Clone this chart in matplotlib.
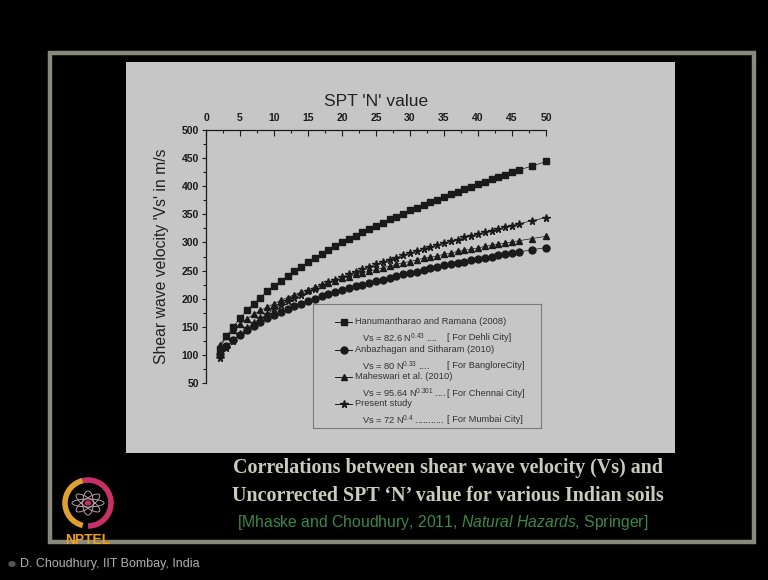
import matplotlib
matplotlib.use("Agg")
import matplotlib.pyplot as plt
from matplotlib.patches import Rectangle, Arc, Ellipse, Circle

plt.rcParams['font.family'] = ['Liberation Sans', 'DejaVu Sans']
plt.rcParams['mathtext.fontset'] = 'custom'
plt.rcParams['mathtext.rm'] = 'Liberation Sans'
plt.rcParams['mathtext.it'] = 'Liberation Sans:italic'

# SPT N values used in the chart
n_values = list(range(2, 47)) + [48, 50]

# shear wave velocity (m/s)
vs_delhi = [111, 133, 150, 165, 179, 191, 202, 213, 222, 232, 240, 249, 257, 265,
            272, 279, 286, 293, 300, 306, 312, 318, 324, 330, 335, 341, 346, 351,
            357, 362, 367, 372, 376, 381, 386, 390, 395, 399, 404, 408, 412, 416,
            420, 425, 429, 436, 444]
vs_bangalore = [101, 115, 126, 136, 145, 152, 159, 165, 171, 177, 182, 187, 191, 196,
                200, 204, 208, 211, 215, 219, 222, 225, 228, 231, 234, 237, 240, 243,
                246, 248, 251, 254, 256, 259, 261, 263, 266, 268, 270, 273, 275, 277,
                279, 281, 283, 287, 291]
vs_chennai = [118, 133, 145, 155, 164, 172, 179, 185, 191, 197, 202, 207, 212, 216,
              220, 224, 228, 232, 236, 239, 243, 246, 249, 252, 255, 258, 261, 264,
              266, 269, 272, 274, 276, 279, 281, 284, 286, 288, 290, 293, 295, 297,
              299, 301, 303, 307, 311]
vs_present = [95, 112, 125, 137, 147, 157, 165, 173, 181, 188, 195, 201, 207, 213,
              218, 224, 229, 234, 239, 243, 248, 252, 257, 261, 265, 269, 273, 277,
              281, 284, 288, 292, 295, 299, 302, 305, 309, 312, 315, 318, 321, 324,
              327, 330, 333, 339, 344]

series_names = ["Hanumantharao and Ramana (2008)", "Anbazhagan and Sitharam (2010)",
                "Maheswari et al. (2010)", "Present study"]
formulas = [r"Vs = 82.6 N$^{0.43}$ ....", r"Vs = 80 N$^{0.33}$ ....",
            r"Vs = 95.64 N$^{0.301}$ ....", r"Vs = 72 N$^{0.4}$ ..........."]
cities = ["[ For Dehli City]", "[ For BangloreCity]", "[ For Chennai City]",
          "[ For Mumbai City]"]

W, H = 768, 580


def fx(x):
    return x / W


def fy(y):
    return 1 - y / H


fig = plt.figure(figsize=(7.68, 5.8), dpi=100, facecolor='black')

# slide frame and grey chart panel (behind the axes)
fig.patches.append(Rectangle((fx(50), fy(542)), 704 / W, 489 / H, fill=False,
                             ec='#8a8a7c', lw=3.2, zorder=-5,
                             transform=fig.transFigure))
fig.patches.append(Rectangle((fx(126), fy(453)), 549 / W, 391 / H, fc='#c6c6c6',
                             ec='none', zorder=-5, transform=fig.transFigure))

ax = fig.add_axes([fx(206), fy(383), 340 / W, 253 / H])
ax.set_facecolor('none')
ink = '#1a1a1a'
series = [vs_delhi, vs_bangalore, vs_chennai, vs_present]
markers = ['s', 'o', '^', '*']
sizes = [4.5, 5, 5, 5.5]
for vals, m, s in zip(series, markers, sizes):
    ax.plot(n_values, vals, marker=m, ms=s, color=ink, lw=0.5, clip_on=False)

ax.set_xlim(0, 50)
ax.set_ylim(50, 500)
ax.spines['right'].set_visible(False)
ax.spines['bottom'].set_visible(False)
for sp in ['top', 'left']:
    ax.spines[sp].set_color(ink)
    ax.spines[sp].set_linewidth(0.9)
ax.xaxis.tick_top()
ax.xaxis.set_label_position('top')
ax.set_xticks(range(0, 51, 5))
ax.set_xticks([x + 2.5 for x in range(0, 50, 5)], minor=True)
ax.set_yticks(range(50, 501, 50))
ax.set_yticks(range(75, 500, 50), minor=True)
ax.tick_params(axis='x', which='major', direction='in', length=4, width=0.8,
               colors=ink, labelsize=7.5, pad=5)
ax.tick_params(axis='x', which='minor', direction='in', length=2.5, width=0.8,
               colors=ink)
ax.tick_params(axis='y', which='major', direction='out', length=3, width=0.8,
               colors=ink, labelsize=7.5, pad=2)
ax.tick_params(axis='y', which='minor', direction='out', length=2, width=0.8,
               colors=ink)
for lab in ax.get_xticklabels() + ax.get_yticklabels():
    lab.set_fontweight('bold')
ax.set_xlabel("SPT 'N' value", fontsize=12.5, color='#222222', labelpad=5)
ax.set_ylabel("Shear wave velocity 'Vs' in m/s", fontsize=11.3, color='#222222',
              labelpad=9)

# legend box
lax = fig.add_axes([fx(313), fy(428), 228 / W, 124 / H])
lax.set_facecolor('none')
lax.set_xlim(313, 541)
lax.set_ylim(428, 304)
lax.set_xticks([])
lax.set_yticks([])
for sp in lax.spines.values():
    sp.set_color('#7a7a7a')
    sp.set_linewidth(0.8)
rows = [322, 350, 377, 404]
for i in range(4):
    y = rows[i]
    lax.plot([335, 352], [y, y], color=ink, lw=0.7)
    lax.plot([343.5], [y], marker=markers[i], ms=sizes[i], color=ink)
    lax.text(355, y, series_names[i], fontsize=6.7, color='#333333', va='center')
    lax.text(362, y + 16, formulas[i], fontsize=6.7, color='#333333', va='center')
    lax.text(447, y + 16, cities[i], fontsize=6.7, color='#333333', va='center')

# caption
cap = '#cbcbbd'
fig.text(fx(448), fy(468), "Correlations between shear wave velocity (Vs) and",
         family='Liberation Serif', weight='bold', fontsize=14.4, color=cap,
         ha='center', va='center')
fig.text(fx(448), fy(496), "Uncorrected SPT \u2018N\u2019 value for various Indian soils",
         family='Liberation Serif', weight='bold', fontsize=14.4, color=cap,
         ha='center', va='center')
fig.text(fx(443), fy(522),
         r"[Mhaske and Choudhury, 2011, $\mathit{Natural\ Hazards}$, Springer]",
         fontsize=11.3, color='#3b8a46', ha='center', va='center')

# NPTEL logo
lx, ly = fx(88), fy(503)
fig.patches.append(Arc((lx, ly), 46 / W, 46 / H, theta1=100, theta2=260,
                       color='#e0a030', lw=4, transform=fig.transFigure))
fig.patches.append(Arc((lx, ly), 46 / W, 46 / H, theta1=-90, theta2=100,
                       color='#c8306a', lw=4, transform=fig.transFigure))
for ang in [0, 45, 90, 135]:
    fig.patches.append(Ellipse((lx, ly), 32 / W, 8 / H, angle=ang, fill=False,
                               ec='#d0b0c0', lw=0.6, transform=fig.transFigure))
fig.patches.append(Circle((lx, ly), 2.5 / W, color='#c8306a',
                          transform=fig.transFigure))
fig.text(fx(88), fy(540), "NPTEL", fontsize=10, weight='bold', color='#f0a020',
         ha='center', va='center')

# footer
fig.patches.append(Circle((fx(12), fy(564)), 3 / W, color='#555555',
                          transform=fig.transFigure))
fig.text(fx(20), fy(564), "D. Choudhury, IIT Bombay, India", fontsize=9,
         color='#b0b0b0', ha='left', va='center')

fig.savefig("out.png", dpi=100, facecolor='black')
